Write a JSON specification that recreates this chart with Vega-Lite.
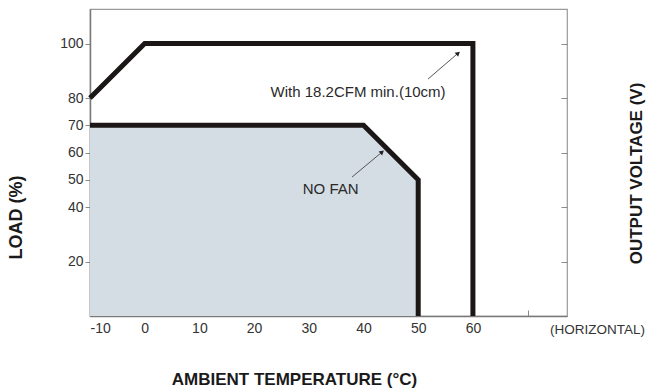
{
  "$schema": "https://vega.github.io/schema/vega-lite/v6.json",
  "width": 477,
  "height": 307,
  "autosize": {"type": "none"},
  "padding": {"left": 90, "top": 9, "right": 79, "bottom": 73},
  "background": "white",
  "config": {
    "view": {"stroke": "#9a9a9a", "strokeWidth": 1.2},
    "font": "Liberation Sans"
  },
  "datasets": {
    "nofan": [
      {"temp": -10, "load": 70, "order": 1},
      {"temp": 40, "load": 70, "order": 2},
      {"temp": 50, "load": 50, "order": 3},
      {"temp": 50, "load": 0, "order": 4}
    ],
    "fan": [
      {"temp": -10, "load": 80, "order": 1},
      {"temp": 0, "load": 100, "order": 2},
      {"temp": 60, "load": 100, "order": 3},
      {"temp": 60, "load": 0, "order": 4}
    ],
    "arrows": [
      {"x1": 51.8, "y1": 87.0, "x2": 57.3, "y2": 96.5},
      {"x1": 37.9, "y1": 51.0, "x2": 43.4, "y2": 60.2}
    ],
    "labels": [
      {"temp": 39.0, "load": 82.4, "text": "With 18.2CFM min.(10cm)"},
      {"temp": 34.0, "load": 46.8, "text": "NO FAN"}
    ],
    "horiz": [
      {"temp": 74.1, "load": 0, "text": "(HORIZONTAL)"}
    ]
  },
  "layer": [
    {
      "data": {"name": "nofan"},
      "transform": [{"filter": "datum.order <= 3"}],
      "mark": {"type": "area", "color": "#d4dce4", "opacity": 1},
      "encoding": {
        "x": {
          "field": "temp", "type": "quantitative",
          "scale": {"domain": [-10, 77.2], "nice": false, "zero": false},
          "axis": {
            "title": "AMBIENT TEMPERATURE (°C)",
            "values": [-10, 0, 10, 20, 30, 40, 50, 60, 70],
            "labelExpr": "datum.value == 70 ? '' : '' + datum.value",
            "grid": false,
            "domainColor": "#7a7a7a",
            "domainWidth": 1.5,
            "tickColor": "#8a8a8a",
            "tickSize": -6,
            "tickWidth": 1,
            "labelPadding": 11,
            "labelFontSize": 14,
            "labelColor": "#333333",
            "labelFont": "Liberation Sans",
            "titleFont": "Liberation Sans",
            "titleFontSize": 17,
            "titleFontWeight": "bold",
            "titleColor": "#1a1a1a",
            "titleX": 204,
            "titleY": 55
          }
        },
        "y": {
          "field": "load", "type": "quantitative",
          "scale": {"domain": [0, 112.7], "nice": false},
          "axis": {
            "orient": "left",
            "title": "LOAD (%)",
            "values": [20, 40, 50, 60, 70, 80, 100],
            "grid": false,
            "domainColor": "#7a7a7a",
            "domainWidth": 1.5,
            "tickColor": "#8a8a8a",
            "tickSize": 5,
            "tickWidth": 1,
            "labelPadding": 2,
            "labelFontSize": 14,
            "labelColor": "#333333",
            "labelFont": "Liberation Sans",
            "titleFont": "Liberation Sans",
            "titleFontSize": 18,
            "titleFontWeight": "bold",
            "titleColor": "#1a1a1a",
            "titleX": -65,
            "titleY": 208
          }
        }
      }
    },
    {
      "data": {"name": "nofan"},
      "mark": {"type": "line", "color": "#1c1717", "strokeWidth": 5, "strokeJoin": "miter", "strokeCap": "butt"},
      "encoding": {
        "x": {"field": "temp", "type": "quantitative"},
        "y": {"field": "load", "type": "quantitative", "axis": null},
        "order": {"field": "order"}
      }
    },
    {
      "data": {"name": "fan"},
      "mark": {"type": "line", "color": "#1c1717", "strokeWidth": 5, "strokeJoin": "miter", "strokeCap": "butt"},
      "encoding": {
        "x": {"field": "temp", "type": "quantitative"},
        "y": {
          "field": "load", "type": "quantitative",
          "axis": {
            "orient": "right",
            "title": "OUTPUT VOLTAGE (V)",
            "values": [20, 40, 60, 80, 100],
            "labels": false,
            "grid": false,
            "domain": false,
            "tickColor": "#8a8a8a",
            "tickSize": -6,
            "tickWidth": 1,
            "titleFont": "Liberation Sans",
            "titleFontSize": 17,
            "titleFontWeight": "bold",
            "titleColor": "#1a1a1a",
            "titleAngle": 270,
            "titleBaseline": "top",
            "titleX": 61,
            "titleY": 164
          }
        },
        "order": {"field": "order"}
      }
    },
    {
      "data": {"name": "arrows"},
      "mark": {"type": "rule", "color": "#555555", "strokeWidth": 1},
      "encoding": {
        "x": {"field": "x1", "type": "quantitative"},
        "y": {"field": "y1", "type": "quantitative", "axis": null},
        "x2": {"field": "x2"},
        "y2": {"field": "y2"}
      }
    },
    {
      "data": {"name": "arrows"},
      "mark": {"type": "point", "shape": "triangle-up", "filled": true, "color": "#222222", "size": 28, "angle": 49, "opacity": 1},
      "encoding": {
        "x": {"field": "x2", "type": "quantitative"},
        "y": {"field": "y2", "type": "quantitative", "axis": null}
      }
    },
    {
      "data": {"name": "labels"},
      "mark": {"type": "text", "font": "Liberation Sans", "fontSize": 15, "color": "#2a2a2a", "align": "center", "baseline": "middle"},
      "encoding": {
        "x": {"field": "temp", "type": "quantitative"},
        "y": {"field": "load", "type": "quantitative", "axis": null},
        "text": {"field": "text"}
      }
    },
    {
      "data": {"name": "horiz"},
      "mark": {"type": "text", "font": "Liberation Sans", "fontSize": 13.5, "color": "#333333", "align": "left", "baseline": "middle", "dy": 14},
      "encoding": {
        "x": {"field": "temp", "type": "quantitative"},
        "y": {"field": "load", "type": "quantitative", "axis": null},
        "text": {"field": "text"}
      }
    }
  ],
  "resolve": {"scale": {"y": "shared"}, "axis": {"y": "independent"}}
}
